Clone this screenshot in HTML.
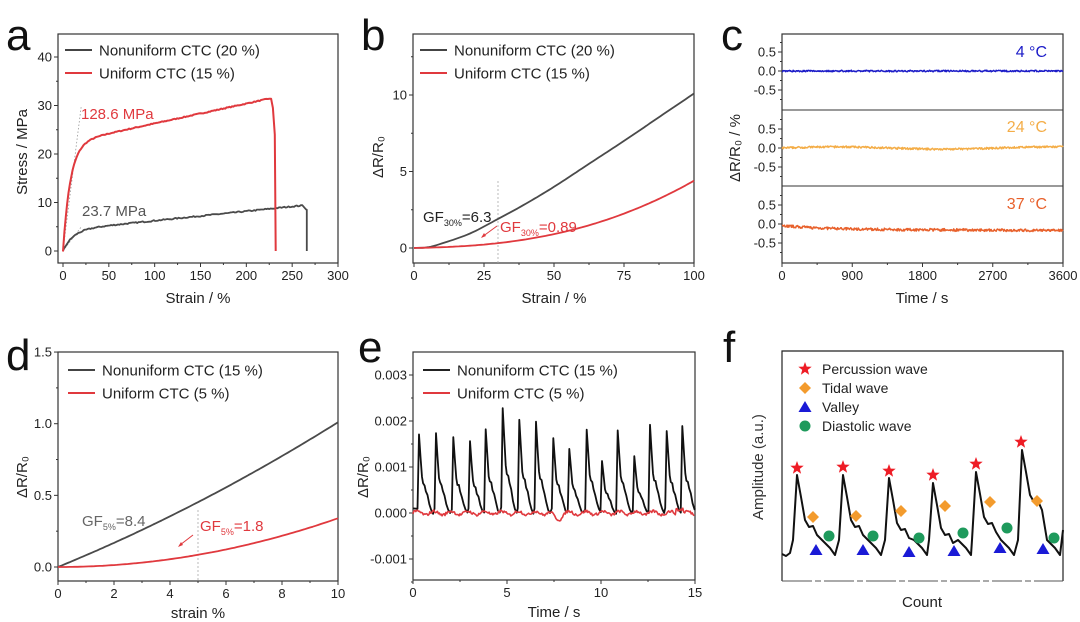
<!DOCTYPE html>
<html><head><meta charset="utf-8"><style>
html,body{margin:0;padding:0;background:#fff;}
svg{display:block;font-family:"Liberation Sans",Arial,sans-serif;}
</style></head><body>
<svg id="s" width="1080" height="622" viewBox="0 0 1080 622" xmlns="http://www.w3.org/2000/svg">
<rect width="1080" height="622" fill="#fff"/>
<g id="g"></g>
<text x="6" y="50" font-size="44" fill="#111">a</text>
<text x="361" y="50" font-size="44" fill="#111">b</text>
<text x="721" y="50" font-size="44" fill="#111">c</text>
<text x="6" y="370" font-size="44" fill="#111">d</text>
<text x="358" y="362" font-size="44" fill="#111">e</text>
<text x="723" y="362" font-size="44" fill="#111">f</text>
</svg>
<script>
var G=document.getElementById('g');var NS='http://www.w3.org/2000/svg';
function el(t,a,txt){var e=document.createElementNS(NS,t);for(var k in a)e.setAttribute(k,a[k]);if(txt!==undefined)e.textContent=txt;G.appendChild(e);return e;}
function tx(x,y,s,o){o=o||{};var a={x:x,y:y,'font-size':o.fs||13,fill:o.c||'#222','text-anchor':o.a||'start'};if(o.tr)a.transform=o.tr;return el('text',a,s);}
var seed=7;function rnd(){seed=(seed*16807)%2147483647;return seed/2147483647;}
function path(pts,col,w,extra){var d='M'+pts.map(function(p){return p[0].toFixed(1)+','+p[1].toFixed(1)}).join('L');var a={d:d,fill:'none',stroke:col,'stroke-width':w||1.8,'stroke-linejoin':'round'};for(var k in extra)a[k]=extra[k];return el('path',a);}
function box(l,t,r,b){el('rect',{x:l,y:t,width:r-l,height:b-t,fill:'none',stroke:'#333','stroke-width':1.2});}
function xt(px,b,lab,minor){el('line',{x1:px,y1:b,x2:px,y2:b+(minor?2:4),stroke:'#333','stroke-width':1});if(lab!==undefined)tx(px,b+17,lab,{a:'middle'});}
function yt(py,l,lab,minor){el('line',{x1:l,y1:py,x2:l-(minor?2:4),y2:py,stroke:'#333','stroke-width':1});if(lab!==undefined)tx(l-6,py+4.5,lab,{a:'end'});}
function interp(P,x){for(var i=0;i<P.length-1;i++){if(x<=P[i+1][0]){var p0=P[Math.max(i-1,0)],p1=P[i],p2=P[i+1],p3=P[Math.min(i+2,P.length-1)];var t=(x-p1[0])/(p2[0]-p1[0]);var m1=(p2[1]-p0[1])/(p2[0]-p0[0])*(p2[0]-p1[0]);var m2=(p3[1]-p1[1])/(p3[0]-p1[0])*(p2[0]-p1[0]);var t2=t*t,t3=t2*t;return (2*t3-3*t2+1)*p1[1]+(t3-2*t2+t)*m1+(-2*t3+3*t2)*p2[1]+(t3-t2)*m2;}}return P[P.length-1][1];}
function legend(x,y,lab,col){el('line',{x1:x,y1:y,x2:x+27,y2:y,stroke:col,'stroke-width':2});tx(x+34,y+5.5,lab,{fs:15});}
function sub(x,y,main,s,rest,col,fs){var t=el('text',{x:x,y:y,'font-size':fs||15,fill:col});var a=document.createElementNS(NS,'tspan');a.textContent=main;t.appendChild(a);var b=document.createElementNS(NS,'tspan');b.setAttribute('font-size','9');b.setAttribute('dy','4');b.textContent=s;t.appendChild(b);var c=document.createElementNS(NS,'tspan');c.setAttribute('dy','-4');c.textContent=rest;t.appendChild(c);}

/* ---------- Panel a ---------- */
(function(){var l=58,r=338,t=34,b=263;var X=function(v){return 63+v*275/300},Y=function(v){return 251-v*4.85};
box(l,t,r,b);
for(var v=0;v<=300;v+=25)xt(X(v),b,v%50==0?v:undefined,v%50!=0);
for(var v=0;v<=45;v+=5)if(Y(v)>t)yt(Y(v),l,v%10==0?v:undefined,v%10!=0);
tx(198,303,'Strain / %',{fs:15,a:'middle'});
tx(27,152,'Stress / MPa',{fs:15,a:'middle',tr:'rotate(-90 27 152)'});
el('line',{x1:X(0),y1:Y(0),x2:X(20),y2:Y(30),stroke:'#999','stroke-width':0.8,'stroke-dasharray':'1.5,2'});
el('line',{x1:X(0),y1:Y(0),x2:X(20),y2:Y(5),stroke:'#999','stroke-width':0.8,'stroke-dasharray':'1.5,2'});
var R=[],K=[];
for(var s=0;s<=225;s+=1.5){R.push([X(s),Y(22.2*(1-Math.exp(-s/8))+0.041*s+(rnd()-.5)*0.2)]);}
R.push([X(227),Y(31.4)]);R.push([X(229),Y(29.5)]);R.push([X(231),Y(24)]);R.push([X(232),Y(0)]);
for(var s=0;s<=262;s+=1.5){K.push([X(s),Y(4.3*(1-Math.exp(-s/11))+0.0195*s+(rnd()-.5)*0.25)]);}
K.push([X(265),Y(8.6)]);K.push([X(266),Y(8.5)]);K.push([X(266),Y(0)]);
path(K,'#4a4a4a',1.8);path(R,'#e0393e',2);
legend(65,50,'Nonuniform CTC (20 %)','#444');legend(65,73,'Uniform CTC (15 %)','#e0393e');
tx(81,119,'128.6 MPa',{fs:15,c:'#e0393e'});
tx(82,216,'23.7 MPa',{fs:15,c:'#555'});
})();

/* ---------- Panel b ---------- */
(function(){var l=413,r=694,t=34,b=263;var X=function(v){return 414+v*2.8},Y=function(v){return 248-v*15.3};
box(l,t,r,b);
for(var v=0;v<=100;v+=12.5)xt(X(v),b,v%25==0?v:undefined,v%25!=0);
for(var v=0;v<=12.5;v+=2.5)yt(Y(v),l,v%5==0?v:undefined,v%5!=0);
tx(554,303,'Strain / %',{fs:15,a:'middle'});
tx(383,157,'ΔR/R₀',{fs:15,a:'middle',tr:'rotate(-90 383 157)'});
el('line',{x1:X(30),y1:181,x2:X(30),y2:b,stroke:'#aaa','stroke-width':0.8,'stroke-dasharray':'2,2'});
var KP=[[0,0],[5,0.05],[10,0.3],[20,0.95],[30,1.9],[40,2.9],[50,4.0],[62.5,5.5],[75,7.0],[87.5,8.55],[100,10.1]];
var K=[],R=[];for(var s=0;s<=100;s+=1){K.push([X(s),Y(interp(KP,s))]);R.push([X(s),Y(0.004*s+4.0*Math.pow(s/100,2.5))]);}
path(K,'#4a4a4a',1.8);path(R,'#e0393e',1.8);
legend(420,50,'Nonuniform CTC (20 %)','#444');legend(420,73,'Uniform CTC (15 %)','#e0393e');
sub(423,222,'GF','30%','=6.3','#222');
sub(500,232,'GF','30%','=0.89','#e0393e');
el('line',{x1:497,y1:226,x2:482,y2:237,stroke:'#e0393e','stroke-width':1});
el('path',{d:'M481,238 L484,233 L486,236 Z',fill:'#e0393e'});
})();

/* ---------- Panel c ---------- */
(function(){var l=782,r=1063,t=34,b=263;
box(l,t,r,b);el('line',{x1:l,y1:110,x2:r,y2:110,stroke:'#333','stroke-width':1});el('line',{x1:l,y1:186,x2:r,y2:186,stroke:'#333','stroke-width':1});
var X=function(v){return 782+v*281/3600};
for(var v=0;v<=3600;v+=450)xt(X(v),b,v%900==0?v:undefined,v%900!=0);
var zs=[71,148,224];
zs.forEach(function(z){[0.5,0,-0.5].forEach(function(v){yt(z-v*38,l,v==0?'0.0':(v>0?'0.5':'-0.5'));});[0.25,-0.25,0.75,-0.75].forEach(function(v){yt(z-v*38,l,undefined,true);});});
tx(922,303,'Time / s',{fs:15,a:'middle'});
tx(740,148,'ΔR/R₀ / %',{fs:15,a:'middle',tr:'rotate(-90 740 148)'});
var B=[],O=[],Rr=[];
for(var s=0;s<=3600;s+=8){B.push([X(s),71-(rnd()-.5)*0.04*38]);
O.push([X(s),148-(0.03*Math.sin(s/3600*2*Math.PI*1.3)+(rnd()-.5)*0.05)*38]);
Rr.push([X(s),224-(-0.04-0.1*(1-Math.exp(-s/500))-0.03*s/3600+(rnd()-.5)*0.07)*38]);}
path(B,'#1c1cc8',1.5);path(O,'#f4ad47',1.5);path(Rr,'#e8612c',1.5);
tx(1047,57,'4 °C',{fs:16,c:'#1c1cc8',a:'end'});
tx(1047,132,'24 °C',{fs:16,c:'#f4ad47',a:'end'});
tx(1047,209,'37 °C',{fs:16,c:'#e8612c',a:'end'});
})();

/* ---------- Panel d ---------- */
(function(){var l=58,r=338,t=352,b=581;var X=function(v){return 58+v*28},Y=function(v){return 567-v*143.3};
box(l,t,r,b);
for(var v=0;v<=10;v+=1)xt(X(v),b,v%2==0?v:undefined,v%2!=0);
for(var v=0;v<=1.5;v+=0.25)yt(Y(v),l,(v*2)%1==0?v.toFixed(1):undefined,(v*2)%1!=0);
tx(198,618,'strain %',{fs:15,a:'middle'});
tx(27,477,'ΔR/R₀',{fs:15,a:'middle',tr:'rotate(-90 27 477)'});
el('line',{x1:X(5),y1:510,x2:X(5),y2:b,stroke:'#aaa','stroke-width':0.8,'stroke-dasharray':'2,2'});
var K=[],R=[];for(var s=0;s<=10;s+=0.1){K.push([X(s),Y(0.08*s+0.0021*s*s)]);R.push([X(s),Y(0.0034*s*s)]);}
path(K,'#4a4a4a',1.8);path(R,'#e0393e',1.8);
legend(68,370,'Nonuniform CTC (15 %)','#444');legend(68,393,'Uniform CTC (5 %)','#e0393e');
sub(82,526,'GF','5%','=8.4','#666');
sub(200,531,'GF','5%','=1.8','#e0393e');
el('line',{x1:193,y1:535,x2:180,y2:545,stroke:'#e0393e','stroke-width':1});
el('path',{d:'M178,547 L181,542 L183,545 Z',fill:'#e0393e'});
})();

/* ---------- Panel e ---------- */
(function(){var l=413,r=695,t=352,b=580;var X=function(v){return 413+v*18.8},Y=function(v){return 513-v*46000};
box(l,t,r,b);
for(var v=0;v<=15;v+=2.5)xt(X(v),b,v%5==0?v:undefined,v%5!=0);
var labs={'-0.001':'-0.001','0':'0.000','0.001':'0.001','0.002':'0.002','0.003':'0.003'};
for(var i=-3;i<=6;i++){var v=i*0.0005;yt(Y(v),l,i%2==0?labs[String(+(v.toFixed(3)))]:undefined,i%2!=0);}
tx(554,617,'Time / s',{fs:15,a:'middle'});
tx(368,477,'ΔR/R₀',{fs:15,a:'middle',tr:'rotate(-90 368 477)'});
var px=[419,436,453.3,470,485.7,502.7,519.3,536,553.3,569.3,586.7,602,617.7,634.3,650,666.7,682.3];
var hs=[1.7,1.72,1.64,1.55,1.8,2.28,2.02,1.98,1.62,1.4,1.83,1.15,1.8,1.22,1.9,1.78,1.9];
var K=[[X(0),Y(0.0001)]];
px.forEach(function(p,i){var h=hs[i]*0.001;var tp=(p-413)/18.8;
var pts=[[-0.08,0.05],[0,1],[0.08,0.72],[0.16,0.45],[0.22,0.38],[0.3,0.36],[0.36,0.28],[0.45,0.22],[0.55,0.12],[0.65,0.04],[0.75,0]];
pts.forEach(function(q){var tt=tp+q[0];if(tt<=15)K.push([X(tt),Y(h*q[1]+(rnd()-.5)*0.00004)]);});});
K.push([X(15),Y(0.0001)]);
path(K,'#111',1.8);
var R=[];for(var s=0;s<=15;s+=0.05){var v=0.00004*Math.sin(s*7)+(rnd()-.5)*0.00006;if(s>7.3&&s<8.1)v-=0.00012*Math.sin((s-7.3)/0.8*Math.PI);if(s>14&&s<14.4)v+=0.0001;R.push([X(s),Y(v)]);}
path(R,'#e0393e',1.6);
legend(423,370,'Nonuniform CTC (15 %)','#222');legend(423,393,'Uniform CTC (5 %)','#e0393e');
})();

/* ---------- Panel f ---------- */
(function(){var l=782,r=1063,t=351,b=581;
el('polyline',{points:l+','+b+' '+l+','+t+' '+r+','+t+' '+r+','+b,fill:'none',stroke:'#222','stroke-width':1.2});
el('line',{x1:l,y1:b,x2:r,y2:b,stroke:'#555','stroke-width':1,'stroke-dasharray':'30,3,6,3'});
tx(922,607,'Count',{fs:15,a:'middle'});
tx(763,467,'Amplitude (a.u.)',{fs:15,a:'middle',tr:'rotate(-90 763 467)',c:'#333'});
var pk=[797,843,889,933,976,1022],ph=[475,475,478,483,472,450];
var W=[[782,554],[786,556],[790,553]];
pk.forEach(function(p,i){var h=ph[i];var rel=[[-4,540],[0,h],[4,h+22],[8,h+45],[12,h+52],[16,h+51],[20,h+60],[25,540],[33,548],[38,555]];
rel.forEach(function(q){W.push([p+q[0],q[1]]);});});
W.push([1063,530]);
path(W,'#111',2);
function star(cx,cy,R){var s='';for(var i=0;i<10;i++){var a=-Math.PI/2+i*Math.PI/5;var rr=i%2?R*0.42:R;s+=(cx+rr*Math.cos(a)).toFixed(1)+','+(cy+rr*Math.sin(a)).toFixed(1)+' ';}el('polygon',{points:s,fill:'#ee1c25'});}
function dia(cx,cy){el('polygon',{points:cx+','+(cy-6)+' '+(cx+6)+','+cy+' '+cx+','+(cy+6)+' '+(cx-6)+','+cy,fill:'#f39b2d'});}
function tri(cx,cy){el('polygon',{points:cx+','+(cy-6)+' '+(cx+6.5)+','+(cy+5)+' '+(cx-6.5)+','+(cy+5),fill:'#1a1ad6'});}
function cir(cx,cy){el('circle',{cx:cx,cy:cy,r:5.5,fill:'#1e9a5c'});}
[[797,468],[843,467],[889,471],[933,475],[976,464],[1021,442]].forEach(function(p){star(p[0],p[1],7);});
[[813,517],[856,516],[901,511],[945,506],[990,502],[1037,501]].forEach(function(p){dia(p[0],p[1]);});
[[829,536],[873,536],[919,538],[963,533],[1007,528],[1054,538]].forEach(function(p){cir(p[0],p[1]);});
[[816,550],[863,550],[909,552],[954,551],[1000,548],[1043,549]].forEach(function(p){tri(p[0],p[1]);});
star(805,369,7);tx(822,374,'Percussion wave',{fs:14});
dia(805,388);tx(822,393,'Tidal wave',{fs:14});
tri(805,407);tx(822,412,'Valley',{fs:14});
cir(805,426);tx(822,431,'Diastolic wave',{fs:14});
})();
</script>
</body></html>
